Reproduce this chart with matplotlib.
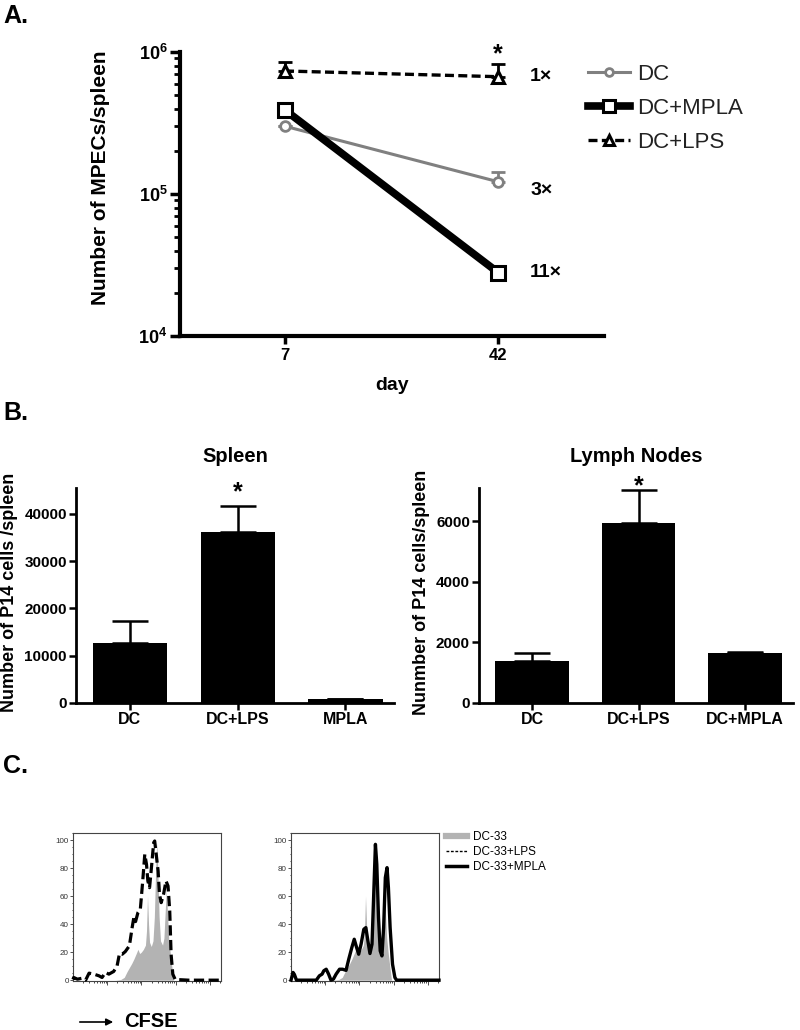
import numpy as np
import matplotlib
matplotlib.use('Agg')
import matplotlib.pyplot as plt
from matplotlib.lines import Line2D
from matplotlib.ticker import FixedLocator, NullFormatter, MultipleLocator

plt.rcParams['font.family'] = ['Liberation Sans', 'DejaVu Sans']
plt.rcParams['mathtext.fontset'] = 'custom'
plt.rcParams['mathtext.rm'] = 'Liberation Sans'
plt.rcParams['mathtext.bf'] = 'Liberation Sans:bold'

# ---- panel A: MPECs per spleen (log scale) ----
days = [7, 42]
dc_mpec = [3.0e5, 1.22e5]
dc_mpec_err = [0, 0.21e5]
mpla_mpec = [3.9e5, 2.8e4]
mpla_mpec_err = [0, 0]
lps_mpec = [7.35e5, 6.7e5]
lps_mpec_err = [1.15e5, 1.5e5]
fold_labels = ['1×', '3×', '11×']

# ---- panel B: P14 cell counts ----
spleen_groups = ['DC', 'DC+LPS', 'MPLA']
spleen_mean = [12800, 36200, 800]
spleen_err = [4600, 5400, 150]
ln_groups = ['DC', 'DC+LPS', 'DC+MPLA']
ln_mean = [1400, 5950, 1650]
ln_err = [240, 1060, 30]

# ---- panel C: CFSE histograms (x in log decades, y in % of max) ----
dc33_x = [1.24, 1.40, 1.50, 1.58, 1.65, 1.72, 1.78, 1.85, 1.90, 1.95, 2.00, 2.06, 2.12,
          2.15, 2.18, 2.21, 2.24, 2.29, 2.34, 2.38, 2.42, 2.45, 2.48, 2.52, 2.56, 2.62,
          2.66, 2.70, 2.73, 2.76, 2.80, 2.85, 2.90, 2.94]
dc33_y = [0, 0.5, 2, 6, 9, 12, 15, 19, 22, 19, 20, 22, 25,
          35, 60, 40, 27, 24, 28, 45, 80, 98, 80, 45, 28, 25,
          30, 50, 65, 50, 30, 18, 8, 0]
lps_x = [0.00, 0.02, 0.13, 0.27, 0.37, 0.47, 0.61, 0.76, 0.85, 0.95, 1.05, 1.19, 1.29,
         1.36, 1.44, 1.53, 1.65, 1.73, 1.78, 1.83, 1.90, 1.97, 2.04, 2.10, 2.15, 2.19,
         2.24, 2.29, 2.36, 2.39, 2.44, 2.49, 2.53, 2.58, 2.65, 2.72, 2.78, 2.83, 2.87,
         2.92, 2.99, 3.38, 4.33]
lps_y = [0.5, 1.9, 0.7, 1.4, 0, 5, 4.3, 3.1, 1.9, 5.5, 4.3, 6.2, 10.2,
         19, 18.5, 20.4, 24.5, 37.5, 44.7, 41.8, 48.2, 50.6, 70.8, 89.8, 82.7, 70.8,
         66, 79, 98.1, 99.3, 88.6, 77.9, 61.3, 55.3, 61.3, 70.8, 67.2, 49.4, 18.5,
         4.3, 0.5, 0, 0]
mpla_x = [0.00, 0.06, 0.10, 0.16, 0.74, 0.83, 0.91, 0.96, 1.03, 1.10, 1.17, 1.24, 1.32,
          1.42, 1.51, 1.61, 1.69, 1.78, 1.85, 1.92, 1.98, 2.05, 2.13, 2.19, 2.25, 2.31,
          2.37, 2.42, 2.47, 2.51, 2.56, 2.61, 2.66, 2.71, 2.76, 2.81, 2.85, 2.90, 2.97,
          3.04, 3.09, 4.33]
mpla_y = [0, 5.5, 4, 0, 0, 3.1, 4.3, 6.7, 7.8, 4.3, 0, 0.7, 4.3,
          7.8, 7.8, 7, 15, 23.3, 29.2, 23.3, 18.5, 25.7, 36.3, 37.5, 28, 19,
          25.7, 61.3, 96.9, 82.7, 44.7, 20.9, 17.3, 37.5, 73.2, 80.3, 66, 37.5, 11.4,
          1.9, 0, 0]


def fx(px):
    return px / 800


def fy(py):
    return 1 - py / 1030


fig = plt.figure(figsize=(8, 10.3), dpi=100)

# ================= A =================
fig.text(fx(3), fy(16), 'A.', fontsize=18, fontweight='bold', va='center')
ax = fig.add_axes([fx(180), fy(336), 424 / 800, 284 / 1030])
ax.set_yscale('log')
ax.set_ylim(1e4, 1e6)
ax.set_xlim(-10.25, 59.4)
for s in ['top', 'right']:
    ax.spines[s].set_visible(False)
for s in ['left', 'bottom']:
    ax.spines[s].set_linewidth(3)

gray = '#808080'
ax.errorbar(days, dc_mpec, yerr=[[0, 0], dc_mpec_err], fmt='none', ecolor=gray,
            elinewidth=2, capsize=5, capthick=2, zorder=2)
ax.errorbar(days, lps_mpec, yerr=[[0, 0], lps_mpec_err], fmt='none', ecolor='black',
            elinewidth=2, capsize=5, capthick=2, zorder=2)
ax.plot(days, dc_mpec, color=gray, lw=2.2, marker='o', ms=7, mfc='white', mec=gray,
        mew=2, label='DC', zorder=3)
ax.plot(days, mpla_mpec, color='black', lw=5.5, marker='s', ms=10, mfc='white',
        mec='black', mew=2.2, label='DC+MPLA', zorder=3)
ax.plot(days, lps_mpec, color='black', lw=2.4, ls=(0, (2.7, 1.3)), marker='^', ms=9,
        mfc='white', mec='black', mew=2.2, label='DC+LPS', zorder=4)

ax.set_yticks([1e4, 1e5, 1e6])
ax.set_yticklabels([r'$\mathbf{10^4}$', r'$\mathbf{10^5}$', r'$\mathbf{10^6}$'], fontsize=13)
ax.tick_params(axis='y', which='major', length=7, width=2.5, pad=2)
ax.tick_params(axis='y', which='minor', length=4, width=2)
ax.set_xticks(days)
ax.set_xticklabels([str(d) for d in days], fontsize=12, fontweight='bold')
ax.tick_params(axis='x', length=6, width=2.5, pad=3)

ends = [lps_mpec[1], dc_mpec[1], mpla_mpec[1]]
offs = [0, -6.5, 0]
for lbl, v, o in zip(fold_labels, ends, offs):
    ax.annotate(lbl, xy=(42, v), xytext=(23, o), textcoords='offset points',
                fontsize=14, fontweight='bold', va='center', ha='left')
ax.annotate('*', xy=(42, lps_mpec[1] + lps_mpec_err[1]), xytext=(0, 7),
            textcoords='offset points', fontsize=18, fontweight='bold',
            ha='center', va='center')

leg = ax.legend(loc='upper left', bbox_to_anchor=(fx(588), fy(64)),
                bbox_transform=fig.transFigure, frameon=False, fontsize=16,
                handlelength=1.9, handletextpad=0.3, labelspacing=0.58,
                borderpad=0, borderaxespad=0, markerscale=0.8)
for t in leg.get_texts():
    t.set_color('#222222')

fig.text(fx(100), fy(178), 'Number of MPECs/spleen', rotation=90, fontsize=15,
         fontweight='bold', ha='center', va='center')
fig.text(fx(392), fy(386), 'day', fontsize=14, fontweight='bold', ha='center', va='center')

# ================= B =================
fig.text(fx(3), fy(413), 'B.', fontsize=18, fontweight='bold', va='center')


def bar_panel(left_px, right_px, groups, means, errs, ymax, yticks, title, ylabel, ylabel_x):
    width = (right_px - left_px) / 800
    b = fig.add_axes([fx(left_px), fy(703), width, 215 / 1030])
    pos = np.arange(len(groups))
    b.bar(pos, means, width=0.69, color='black', zorder=2)
    b.errorbar(pos, means, yerr=[[0] * len(errs), errs], fmt='none', ecolor='black',
               elinewidth=1.8, capsize=13, capthick=1.8, zorder=1)
    b.set_xlim(-0.5, 2.45)
    b.set_ylim(0, ymax)
    for s in ['top', 'right']:
        b.spines[s].set_visible(False)
    for s in ['left', 'bottom']:
        b.spines[s].set_linewidth(2)
    b.set_xticks(pos)
    b.set_xticklabels(groups, fontsize=11.5, fontweight='bold')
    b.set_yticks(yticks)
    b.set_yticklabels([str(t) for t in yticks], fontsize=11, fontweight='bold')
    b.tick_params(length=5, width=1.8, pad=1.5)
    b.text(0.5, 1.0 + 31 / 215, title, transform=b.transAxes, fontsize=14.5,
           fontweight='bold', ha='center', va='center')
    fig.text(fx(ylabel_x), fy(592), ylabel, rotation=90, fontsize=13,
             fontweight='bold', ha='center', va='center')
    return b


sp = bar_panel(76, 394, spleen_groups, spleen_mean, spleen_err, 45500,
               [0, 10000, 20000, 30000, 40000], 'Spleen',
               'Number of P14 cells /spleen', 10)
sp.annotate('*', xy=(1, spleen_mean[1] + spleen_err[1]), xytext=(0, 10),
            textcoords='offset points', fontsize=18, fontweight='bold',
            ha='center', va='center')
ln = bar_panel(479, 793, ln_groups, ln_mean, ln_err, 7090,
               [0, 2000, 4000, 6000], 'Lymph Nodes',
               'Nunmber of P14 cells/spleen', 422)
ln.annotate('*', xy=(1, ln_mean[1] + ln_err[1]), xytext=(0, 3),
            textcoords='offset points', fontsize=18, fontweight='bold',
            ha='center', va='center')

# ================= C =================
fig.text(fx(3), fy(766), 'C.', fontsize=18, fontweight='bold', va='center')

minor_x = [k + np.log10(m) for k in range(0, 5) for m in range(2, 10) if k + np.log10(m) < 4.33]


def hist_axes(left_px):
    h = fig.add_axes([fx(left_px), fy(981), 148 / 800, 148 / 1030])
    h.set_xlim(0, 4.33)
    h.set_ylim(-0.6, 105)
    for s in h.spines.values():
        s.set_linewidth(0.8)
        s.set_color('#444444')
    h.set_yticks([0, 20, 40, 60, 80, 100])
    h.yaxis.set_minor_locator(MultipleLocator(5))
    h.tick_params(axis='y', labelsize=5.8, length=2, width=0.6, pad=1, colors='#333333')
    h.tick_params(axis='y', which='minor', length=1, width=0.5)
    h.set_xticks([1, 2, 3, 4])
    h.xaxis.set_minor_locator(FixedLocator(minor_x))
    h.xaxis.set_major_formatter(NullFormatter())
    h.tick_params(axis='x', length=3, width=0.6, colors='#333333')
    h.tick_params(axis='x', which='minor', length=1.5, width=0.5)
    h.fill_between(dc33_x, dc33_y, 0, color='#b3b3b3', lw=0, zorder=1)
    return h


h1 = hist_axes(73)
h1.plot(lps_x, lps_y, color='black', lw=2.3, ls=(0, (3.2, 1.4)), zorder=3, clip_on=False)
h2 = hist_axes(291)
h2.plot(mpla_x, mpla_y, color='black', lw=2.4, zorder=3, clip_on=False)

handles = [Line2D([], [], color='#b3b3b3', lw=4.5),
           Line2D([], [], color='black', lw=1, ls=(0, (2, 1.2))),
           Line2D([], [], color='black', lw=2.5)]
h2.legend(handles, ['DC-33', 'DC-33+LPS', 'DC-33+MPLA'], loc='upper left',
          bbox_to_anchor=(fx(446), fy(831)), bbox_transform=fig.transFigure,
          frameon=False, fontsize=8.5, handlelength=1.75, handletextpad=0.5,
          labelspacing=0.25, borderpad=0, borderaxespad=0)

fig.add_artist(matplotlib.patches.FancyArrowPatch(
    (fx(77), fy(1022)), (fx(116), fy(1022)), transform=fig.transFigure,
    arrowstyle='-|>', mutation_scale=10, lw=1.2, color='black'))
fig.text(fx(124), fy(1027), 'CFSE', fontsize=14.5, fontweight='bold', va='baseline')

fig.savefig('out.png', dpi=100)
